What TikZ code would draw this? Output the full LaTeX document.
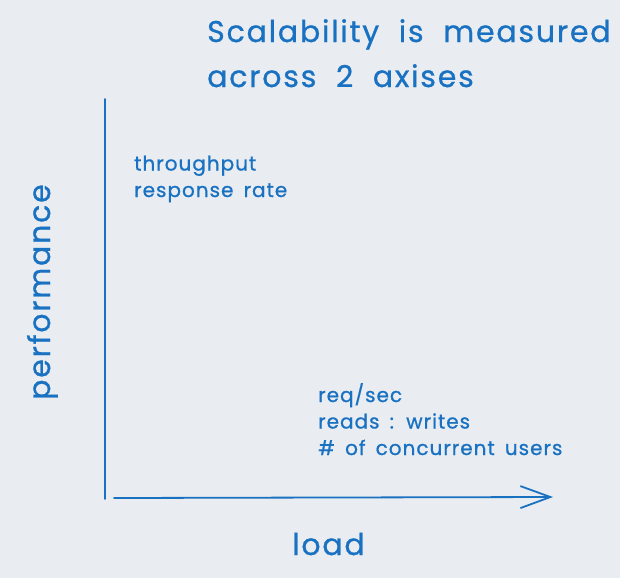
\documentclass[tikz,border=0pt]{standalone}
\usepackage{fontspec}
\setmainfont{Poppins}
\newfontfamily\bigfnt[LetterSpace=6,WordSpace=2,FakeBold=0.8]{Poppins}
\newfontfamily\smallfnt[LetterSpace=5,WordSpace=1.6,FakeBold=0.8]{Poppins}
\usetikzlibrary{arrows.meta}
\definecolor{bgc}{HTML}{E9ECF0}
\definecolor{ink}{HTML}{1971C2}
\tikzset{
  big/.style={font=\bigfnt\fontsize{30}{45}\selectfont, text=ink, inner sep=0pt, align=left},
  small/.style={font=\smallfnt\fontsize{20}{26.5}\selectfont, text=ink, inner sep=0pt, align=left},
  axis/.style={draw=ink, line width=1.8pt, line cap=round},
}
\begin{document}
\begin{tikzpicture}[x=1pt,y=-1pt]
\fill[bgc] (0,0) rectangle (620,578);
\useasboundingbox (0,0) rectangle (620,578);
\coordinate (top) at (105,99);
\coordinate (bot) at (105,499);
\coordinate (ostart) at (114,498);
\coordinate (xend) at (553,497);
\draw[axis] (top) -- (bot);
\draw[axis, -{Straight Barb[length=30pt,width=22pt,line width=1.8pt]}] (ostart) -- (xend);
\node[big, anchor=base west] (title) at (207,87) {Scalability is measured\\across 2 axises};
\node[small, anchor=base west] (ylab) at (134,197) {throughput\\response rate};
\node[small, anchor=base west] (xlab) at (318,455) {req/sec\\reads : writes\\\# of concurrent users};
\node[big, anchor=base west] (load) at (292,555) {load};
\node[big, anchor=base west, rotate=90] (perf) at (50,400) {performance};
\end{tikzpicture}
\end{document}
